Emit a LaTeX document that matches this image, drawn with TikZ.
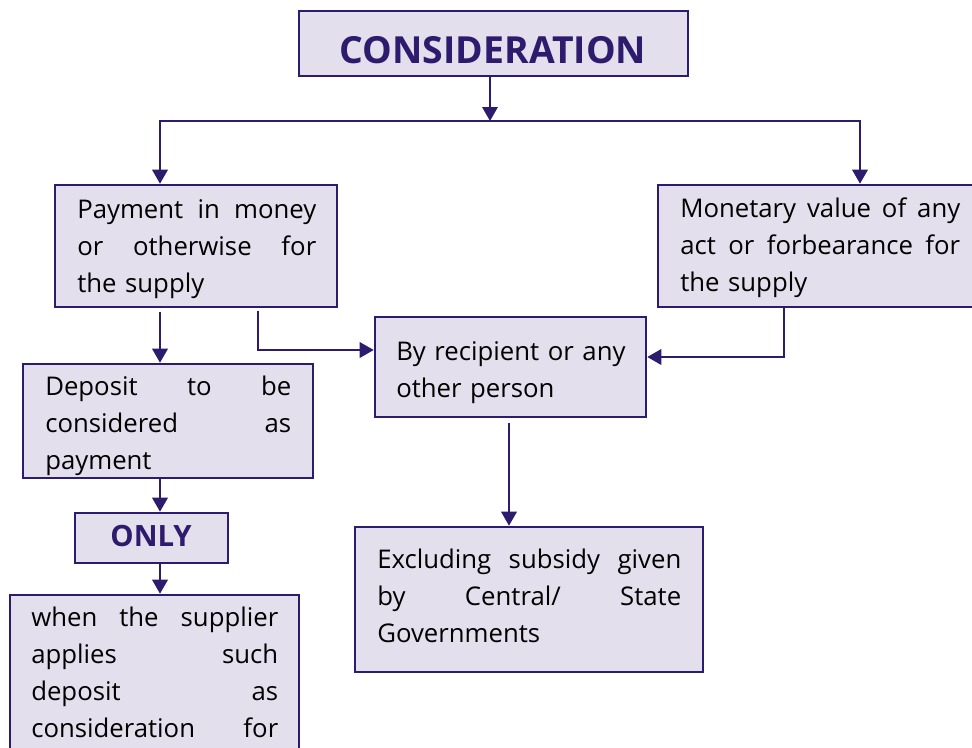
\documentclass[tikz,border=0pt]{standalone}
\usepackage{fontspec}
\setmainfont{Open Sans}
\usetikzlibrary{arrows.meta,fit}
\definecolor{bord}{RGB}{45,27,110}
\definecolor{boxfill}{RGB}{228,223,236}
\begin{document}
\begin{tikzpicture}[x=0.75pt,y=-0.75pt,
  box/.style={draw=bord, fill=boxfill, line width=1.9pt, inner sep=0pt},
  txt/.style={inner sep=0pt, anchor=north west, align=left, text=black,
    font=\fontsize{19.3pt}{27.75pt}\selectfont},
  ttl/.style={inner sep=0pt, anchor=base, text=bord,
    font=\fontsize{28pt}{34pt}\selectfont\bfseries},
  conn/.style={draw=bord, line width=1.7pt, line join=miter,
    -{Triangle[length=10.5pt,width=11.5pt]}},
  plain/.style={draw=bord, line width=1.7pt, line join=miter}]
\useasboundingbox (0,0) rectangle (972,747);
\clip (0,0) rectangle (972,747);

% boxes
\node[box, fit={(299,11) (688,76)}] (cons) {};
\node[box, fit={(55,185) (337,307)}] (pay) {};
\node[box, fit={(658,185) (990,307)}] (mon) {};
\node[box, fit={(23,364) (313,478)}] (dep) {};
\node[box, fit={(375,317) (646,417)}] (by) {};
\node[box, fit={(355,527) (703,672)}] (exc) {};
\node[box, fit={(75,513) (228,563)}] (only) {};
\node[box, fit={(10,595) (299,790)}] (when) {};

% helper coordinates
\coordinate (split) at (490,121);
\coordinate (hl) at (160,121);
\coordinate (hr) at (860,121);
\coordinate (colA) at (160,0);
\coordinate (colB) at (258,0);
\coordinate (rowB) at (0,350);
\coordinate (colC) at (784,0);
\coordinate (rowC) at (0,357);
\coordinate (colD) at (509,0);

% connectors
\draw[conn] (split |- cons.south) -- (split);
\draw[plain, {Triangle[length=10.5pt,width=11.5pt]}-{Triangle[length=10.5pt,width=11.5pt]}]
  (hl |- pay.north) -- (hl) -- (hr) -- (hr |- mon.north);
\draw[conn, shorten <=2.5pt] (pay.south -| colA) -- (dep.north -| colA);
\draw[conn, shorten <=2pt] (pay.south -| colB) |- (by.west |- rowB);
\draw[conn] (mon.south -| colC) |- (by.east |- rowC);
\draw[conn, shorten <=3.5pt] (by.south -| colD) -- (exc.north -| colD);
\draw[conn] (dep.south -| colA) -- (only.north -| colA);
\draw[conn] (only.south -| colA) -- (when.north -| colA);

% texts
\node[ttl] (consT) at (493,63) {CONSIDERATION};
\node[ttl, font=\fontsize{22pt}{26pt}\selectfont\bfseries] (onlyT) at (151,546) {ONLY};

\node[txt, text width=179.25pt] (payT) at (77,192.1)
  {\strut Payment\hfill in\hfill money\\or\hfill otherwise\hfill for\\the supply};
\node[txt, text width=210pt] (monT) at (680,191.1)
  {\strut Monetary\hfill value\hfill of\hfill any\\act\hfill or\hfill forbearance\hfill for\\the supply};
\node[txt, text width=184.5pt] (depT) at (45,369.8)
  {\strut Deposit\hfill to\hfill be\\considered\hfill as\\payment};
\node[txt, text width=200pt] (byT) at (396,334.1)
  {\strut By recipient or any\\other person};
\node[txt, text width=228pt] (excT) at (377,542.1)
  {\strut Excluding\hfill subsidy\hfill given\\by\hfill Central/\hfill State\\Governments};
\node[txt, text width=185.25pt] (whenT) at (31,600.8)
  {\strut when\hfill the\hfill supplier\\applies\hfill such\\deposit\hfill as\\consideration\hfill for};
\end{tikzpicture}
\end{document}
